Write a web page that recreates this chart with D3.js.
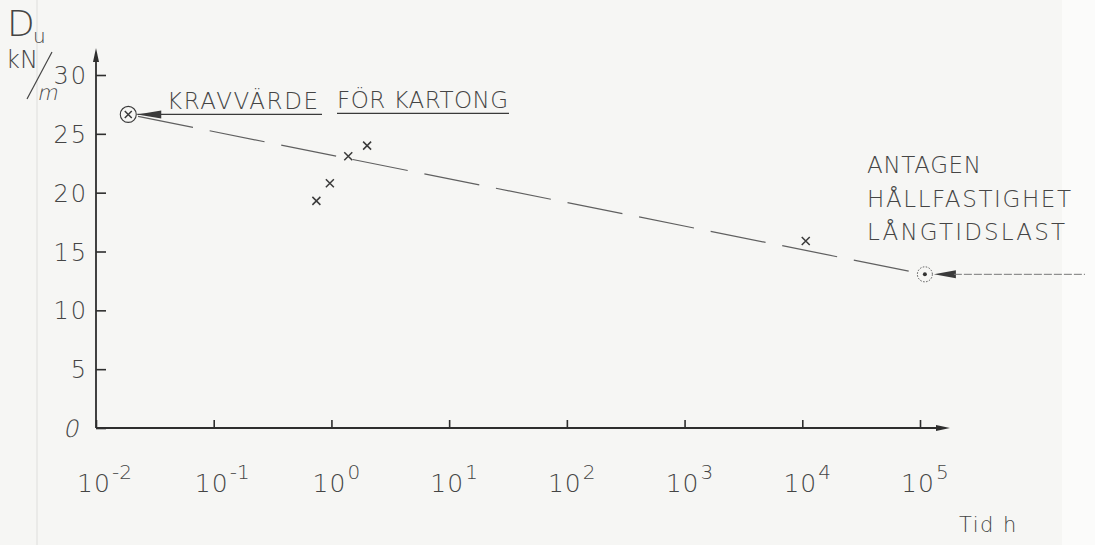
<!DOCTYPE html>
<html>
  <head>
    <title>Du mot tid</title>
    <meta charset="utf-8">
    <script src="https://d3js.org/d3.v7.min.js"></script>
    <style type="text/css">
      body { margin: 0; background: #f6f6f4; }
      #chart text {
        font-family: "DejaVu Sans", sans-serif;
        font-weight: 200;
        fill: #454545;
      }
      #chart .axis line, #chart .axis path { stroke: #2e2e2e; stroke-width: 1.6; }
    </style>
  </head>
  <body>
    <svg id="chart"></svg>
    <script>
      // mätpunkter (tid i timmar, Du i kN/m)
      var timeH    = [0.0188, 0.745, 0.97, 1.39, 2.01, 10700];
      var strength = [26.65, 19.3, 20.8, 23.1, 24.0, 15.9];
      // antagen hållfasthet vid långtidslast
      var assumedTime = [1.1e5];
      var assumedStrength = [13.06];
      // tick
      var yTicks = [0, 5, 10, 15, 20, 25, 30];
      var xExponents = [-2, -1, 0, 1, 2, 3, 4, 5];

      var width = 1095, height = 545;

      var x = d3.scaleLog().domain([1e-2, 1e5]).range([96, 920]);
      var y = d3.scaleLinear().domain([0, 30]).range([428, 75]);

      var svg = d3.select("#chart")
          .attr("width", width)
          .attr("height", height);

      // papperskanter
      svg.append("rect").attr("width", width).attr("height", height).attr("fill", "#f6f6f4");
      svg.append("rect").attr("x", 1062).attr("width", width - 1062).attr("height", height).attr("fill", "#fbfbfa");
      svg.append("line").attr("x1", 37).attr("x2", 37).attr("y1", 0).attr("y2", height)
          .attr("stroke", "#e6e6e4").attr("stroke-width", 1.5);

      // y-axel
      var yAxis = svg.append("g")
          .attr("class", "axis")
          .attr("transform", "translate(" + x(1e-2) + ",0)")
          .call(d3.axisLeft(y).tickValues(yTicks).tickSize(-10).tickSizeOuter(0));
      yAxis.select(".domain").remove();
      yAxis.selectAll(".tick text").remove();
      yAxis.selectAll(".tick").append("text")
          .attr("transform", function(d) { return d === 0 ? "translate(-14,0) skewX(-12)" : "translate(-8,0)"; })
          .attr("dy", "0.36em")
          .attr("text-anchor", "end")
          .style("font-size", "24px")
          .style("letter-spacing", "2px")
          .text(function(d) { return d; });

      // x-axel
      var xAxis = svg.append("g")
          .attr("class", "axis")
          .attr("transform", "translate(0," + y(0) + ")")
          .call(d3.axisBottom(x).tickValues(xExponents.map(function(e) { return Math.pow(10, e); }))
                .tickSize(-8).tickSizeOuter(0));
      xAxis.select(".domain").remove();
      xAxis.selectAll(".tick text").remove();

      // axellinjer med pilar
      var axisColor = "#2e2e2e";
      svg.append("line")
          .attr("x1", x(1e-2)).attr("x2", x(1e-2))
          .attr("y1", y(0)).attr("y2", y(30) - 22)
          .attr("stroke", axisColor).attr("stroke-width", 1.8);
      svg.append("path")
          .attr("d", "M" + x(1e-2) + "," + (y(30) - 27) + "l-3,14l6,0z")
          .attr("fill", axisColor);
      svg.append("line")
          .attr("x1", x(1e-2)).attr("x2", x(1e5) + 22)
          .attr("y1", y(0)).attr("y2", y(0))
          .attr("stroke", axisColor).attr("stroke-width", 1.8);
      svg.append("path")
          .attr("d", "M" + (x(1e5) + 30) + "," + y(0) + "l-14,-3l0,6z")
          .attr("fill", axisColor);

      // x-etiketter 10^n
      var xl = svg.append("g").selectAll("g")
          .data(xExponents)
          .enter().append("g")
            .attr("transform", function(d) { return "translate(" + x(Math.pow(10, d)) + "," + y(0) + ")"; });
      xl.append("text")
          .attr("x", -2)
          .attr("y", 64)
          .attr("text-anchor", "middle")
          .style("font-size", "25px")
          .style("letter-spacing", "1px")
          .text("10");
      xl.append("text")
          .attr("x", 16)
          .attr("y", 51)
          .style("font-size", "20px")
          .text(function(d) { return d; });

      svg.append("text")
          .attr("x", 959).attr("y", 532)
          .style("font-size", "21px")
          .style("letter-spacing", "1.5px")
          .text("Tid h");

      // axeltitel Du kN/m
      svg.append("text").attr("x", 7).attr("y", 36).style("font-size", "36px").text("D");
      svg.append("text").attr("x", 33).attr("y", 43).style("font-size", "20px").text("u");
      svg.append("text").attr("x", 6).attr("y", 68).style("font-size", "24px").text("kN");
      svg.append("line").attr("x1", 52).attr("y1", 52).attr("x2", 27).attr("y2", 99)
          .attr("stroke", "#454545").attr("stroke-width", 1.2);
      svg.append("text").attr("transform", "translate(37,100) skewX(-12)")
          .style("font-size", "21px").text("m");

      // streckad linje genom krav och antagen långtidshållfasthet
      var trend = [[timeH[0], strength[0]], [assumedTime[0], assumedStrength[0]]];
      var p0 = [x(trend[0][0]), y(trend[0][1])], p1 = [x(trend[1][0]), y(trend[1][1])];
      var len = Math.hypot(p1[0] - p0[0], p1[1] - p0[1]);
      var ux = (p1[0] - p0[0]) / len, uy = (p1[1] - p0[1]) / len;
      svg.append("line")
          .attr("x1", p0[0] + ux * 10).attr("y1", p0[1] + uy * 10)
          .attr("x2", p1[0] - ux * 9).attr("y2", p1[1] - uy * 9)
          .attr("stroke", "#606060").attr("stroke-width", 1.2)
          .attr("stroke-dasharray", "56,17");

      // mätpunkter
      svg.append("g").selectAll("path")
          .data(timeH)
          .enter().append("path")
            .attr("transform", function(d, i) { return "translate(" + x(d) + "," + y(strength[i]) + ")"; })
            .attr("d", function(d, i) { return i === 0 ? "M-3.5,-3.5L3.5,3.5M-3.5,3.5L3.5,-3.5" : "M-4,-4L4,4M-4,4L4,-4"; })
            .attr("stroke", "#3a3a3a").attr("stroke-width", 1.5).attr("fill", "none");

      // ringad kravpunkt
      svg.append("circle")
          .attr("cx", x(timeH[0])).attr("cy", y(strength[0])).attr("r", 8)
          .attr("fill", "none").attr("stroke", "#3a3a3a").attr("stroke-width", 1.1);

      // antagen punkt
      svg.append("circle")
          .attr("cx", x(assumedTime[0])).attr("cy", y(assumedStrength[0])).attr("r", 7.5)
          .attr("fill", "none").attr("stroke", "#555").attr("stroke-width", 1)
          .attr("stroke-dasharray", "1.5,1.5");
      svg.append("circle")
          .attr("cx", x(assumedTime[0])).attr("cy", y(assumedStrength[0])).attr("r", 2)
          .attr("fill", "#333");

      // KRAVVÄRDE FÖR KARTONG
      var ky = y(strength[0]);
      var kx = x(timeH[0]) + 9;
      svg.append("line").attr("x1", kx).attr("x2", 322).attr("y1", ky).attr("y2", ky)
          .attr("stroke", "#3a3a3a").attr("stroke-width", 1.4);
      svg.append("path").attr("d", "M" + kx + "," + ky + "l24,-4l0,8z")
          .attr("fill", "#3a3a3a");
      svg.append("line").attr("x1", 337).attr("x2", 509).attr("y1", ky - 1).attr("y2", ky - 1)
          .attr("stroke", "#3a3a3a").attr("stroke-width", 1.4);
      svg.append("text").attr("x", 167).attr("y", 109)
          .attr("textLength", 151).attr("lengthAdjust", "spacing")
          .style("font-size", "23px")
          .text("KRAVVÄRDE");
      svg.append("text").attr("x", 337).attr("y", 108)
          .attr("textLength", 171).attr("lengthAdjust", "spacing")
          .style("font-size", "23px")
          .text("FÖR KARTONG");

      // ANTAGEN HÅLLFASTIGHET LÅNGTIDSLAST
      var ay = y(assumedStrength[0]);
      var ax = x(assumedTime[0]) + 9;
      svg.append("path").attr("d", "M" + ax + "," + ay + "l22,-4l0,8z").attr("fill", "#3a3a3a");
      svg.append("line").attr("x1", ax + 20).attr("x2", 1085).attr("y1", ay).attr("y2", ay)
          .attr("stroke", "#777").attr("stroke-width", 1).attr("stroke-dasharray", "8,2");
      var lines = ["ANTAGEN", "HÅLLFASTIGHET", "LÅNGTIDSLAST"];
      var lineLen = [114, 204, 198];
      svg.append("g").selectAll("text")
          .data(lines)
          .enter().append("text")
            .attr("x", 867)
            .attr("y", function(d, i) { return 173 + i * 33.5; })
            .attr("textLength", function(d, i) { return lineLen[i]; })
            .attr("lengthAdjust", "spacing")
            .style("font-size", "23px")
            .text(function(d) { return d; });
    </script>
  </body>
</html>
